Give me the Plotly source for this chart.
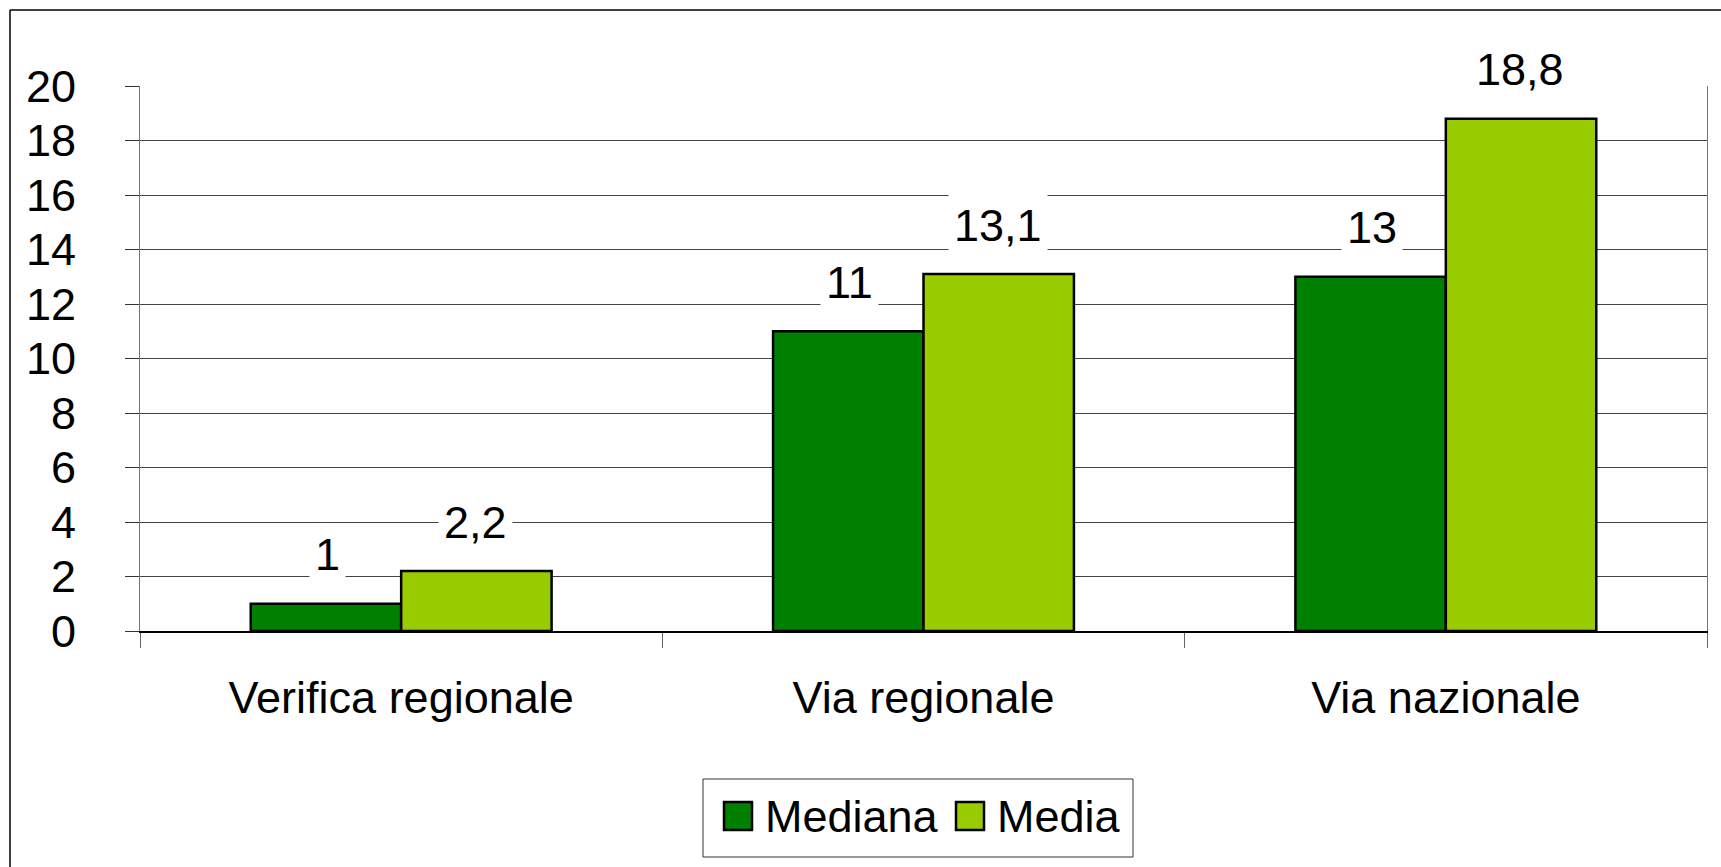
import plotly.graph_objects as go

categories = ["Verifica regionale", "Via regionale", "Via nazionale"]
mediana = [1, 11, 13]
media = [2.2, 13.1, 18.8]
mediana_labels = ["1", "11", "13"]
media_labels = ["2,2", "13,1", "18,8"]

W, H = 1721, 867
L, R, T, B = 140, 14, 86, 236
FONT = "Liberation Sans, Arial, sans-serif"
FS = 45
DARK = "#008000"
LIGHT = "#99CC00"


def px_x(p):
    return (p - L) / (W - L - R)


def px_y(p):
    return (H - B - p) / (H - T - B)


fig = go.Figure()
fig.add_trace(go.Bar(x=categories, y=mediana, name="Mediana",
                     marker=dict(color=DARK, line=dict(color="black", width=2.5))))
fig.add_trace(go.Bar(x=categories, y=media, name="Media",
                     marker=dict(color=LIGHT, line=dict(color="black", width=2.5))))

# value labels on a white box, like the original
annotations = []
for cat, v, t in zip(categories, mediana, mediana_labels):
    annotations.append(dict(x=cat, y=v, text=t, xshift=-74, yshift=49, showarrow=False,
                            yanchor="middle", bgcolor="white", borderpad=5,
                            font=dict(size=FS, color="black", family=FONT)))
for cat, v, t in zip(categories, media, media_labels):
    annotations.append(dict(x=cat, y=v, text=t, xshift=74, yshift=49, showarrow=False,
                            yanchor="middle", bgcolor="white", borderpad=5,
                            font=dict(size=FS, color="black", family=FONT)))

# hand-drawn legend (plotly's bar swatches are too small)
shapes = [
    dict(type="rect", xref="paper", yref="paper", x0=px_x(703), x1=px_x(1133),
         y0=px_y(857), y1=px_y(779), line=dict(color="#333", width=1), fillcolor="white"),
    dict(type="rect", xref="paper", yref="paper", x0=px_x(724), x1=px_x(752),
         y0=px_y(830), y1=px_y(802), line=dict(color="black", width=2.5), fillcolor=DARK),
    dict(type="rect", xref="paper", yref="paper", x0=px_x(956), x1=px_x(984),
         y0=px_y(830), y1=px_y(802), line=dict(color="black", width=2.5), fillcolor=LIGHT),
    # outer frame (top and left edges visible)
    dict(type="line", xref="paper", yref="paper", x0=px_x(10), x1=px_x(W + 5),
         y0=px_y(10), y1=px_y(10), line=dict(color="black", width=1.5)),
    dict(type="line", xref="paper", yref="paper", x0=px_x(10), x1=px_x(10),
         y0=px_y(10), y1=px_y(H + 5), line=dict(color="black", width=1.5)),
]
annotations.append(dict(xref="paper", yref="paper", x=px_x(763), y=px_y(816), text="Mediana",
                        showarrow=False, xanchor="left", yanchor="middle",
                        font=dict(size=FS, color="black", family=FONT)))
annotations.append(dict(xref="paper", yref="paper", x=px_x(995), y=px_y(816), text="Media",
                        showarrow=False, xanchor="left", yanchor="middle",
                        font=dict(size=FS, color="black", family=FONT)))

fig.update_layout(
    width=W, height=H,
    margin=dict(l=L, r=R, t=T, b=B),
    paper_bgcolor="white", plot_bgcolor="white",
    barmode="group", bargap=0.424, bargroupgap=0,
    showlegend=False,
    font=dict(family=FONT, size=FS, color="black"),
    shapes=shapes, annotations=annotations,
)
fig.update_xaxes(tickson="boundaries", ticks="outside", ticklen=15, tickcolor="#666",
                 showline=True, linecolor="black", linewidth=1.5,
                 ticklabelstandoff=26, tickfont=dict(size=FS))
fig.update_yaxes(range=[0, 20], dtick=2, ticks="outside", ticklen=14, tickcolor="#333",
                 showgrid=True, gridcolor="#444", gridwidth=1,
                 showline=True, linecolor="#777", linewidth=1, mirror=True,
                 zeroline=False, ticklabelstandoff=40, tickfont=dict(size=FS))

fig.write_html("out.html", config={"displayModeBar": False},
               post_script="document.body.style.margin='0px';")
